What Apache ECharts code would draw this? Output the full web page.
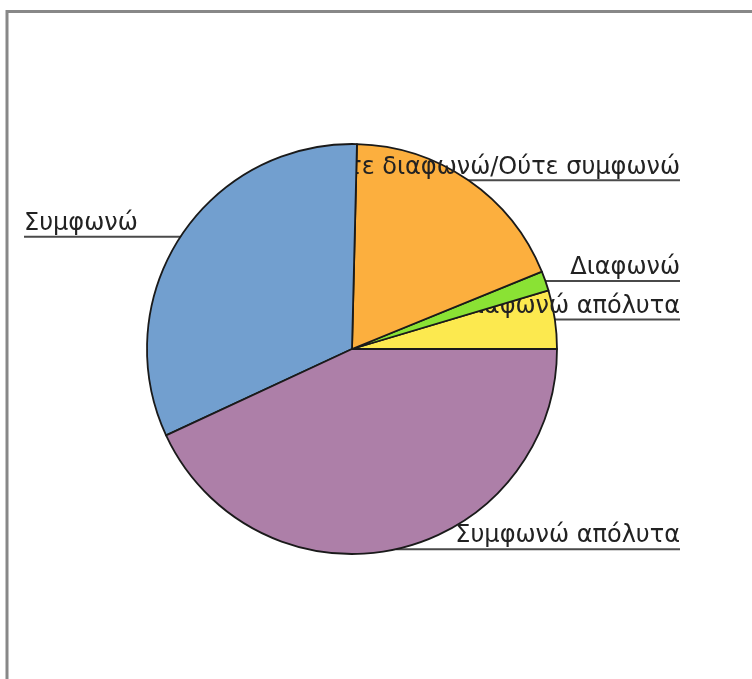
<!DOCTYPE html>
<html>
<head>
<meta charset="utf-8">
<script src="https://cdn.jsdelivr.net/npm/echarts@6/dist/echarts.min.js"></script>
<style>
  html, body { margin: 0; padding: 0; background: #ffffff; }
  #chart { width: 752px; height: 679px; }
</style>
</head>
<body>
<div id="chart"></div>
<script>
// Answer categories, counted counter-clockwise from 3 o'clock
const categories = [
  'Διαφωνώ απόλυτα',
  'Διαφωνώ',
  'Ούτε διαφωνώ/Ούτε συμφωνώ',
  'Συμφωνώ',
  'Συμφωνώ απόλυτα'
];
const counts = [3, 1, 12, 21, 28];
const sliceColors = ['#fce94f', '#8ae234', '#fcaf3e', '#729fcf', '#ad7fa8'];

const CENTER = [352, 349];
const RADIUS = 205;
const RIGHT_EDGE = 680;
const LEFT_EDGE = 24;

const chart = echarts.init(document.getElementById('chart'), null, { renderer: 'canvas' });

// Underlined label: text sits on a horizontal leader running from the
// slice's outer edge to the side margin.
function underlineLayout(p) {
  const pts = p.labelLinePoints;
  if (!pts || !pts[0]) {
    return {};
  }
  const start = pts[0];
  const isLeft = start[0] < CENTER[0];
  const endX = isLeft ? LEFT_EDGE : RIGHT_EDGE;
  return {
    x: endX,
    y: start[1] - 1,
    align: isLeft ? 'left' : 'right',
    verticalAlign: 'bottom',
    labelLinePoints: [
      [start[0], start[1]],
      [endX, start[1]],
      [endX, start[1]]
    ]
  };
}

// Each slice is painted in its own layer together with its label, so a
// label lies over the earlier slices and under the later ones.
const series = categories.map((_, k) => ({
  type: 'pie',
  z: 2 + k,
  center: CENTER,
  radius: RADIUS,
  startAngle: 0,
  clockwise: false,
  avoidLabelOverlap: false,
  animation: false,
  silent: true,
  emphasis: { disabled: true },
  data: categories.map((name, i) => {
    const own = i === k;
    return {
      name: name,
      value: counts[i],
      itemStyle: own
        ? { color: sliceColors[i], borderColor: '#1a1a1a', borderWidth: 1.8 }
        : { color: 'rgba(0,0,0,0)', borderWidth: 0 },
      label: { show: own },
      labelLine: { show: own }
    };
  }),
  label: {
    position: 'outside',
    fontFamily: 'DejaVu Sans',
    fontSize: 24,
    color: '#222222'
  },
  labelLine: {
    length: 0,
    length2: 0,
    lineStyle: { color: '#4a4a4a', width: 2 }
  },
  labelLayout: underlineLayout
}));

chart.setOption({
  backgroundColor: '#ffffff',
  graphic: [{
    type: 'rect',
    shape: { x: 7, y: 11.5, width: 900, height: 900 },
    style: { fill: 'none', stroke: '#888888', lineWidth: 3 },
    silent: true,
    z: 0
  }],
  series: series
});
</script>
</body>
</html>
